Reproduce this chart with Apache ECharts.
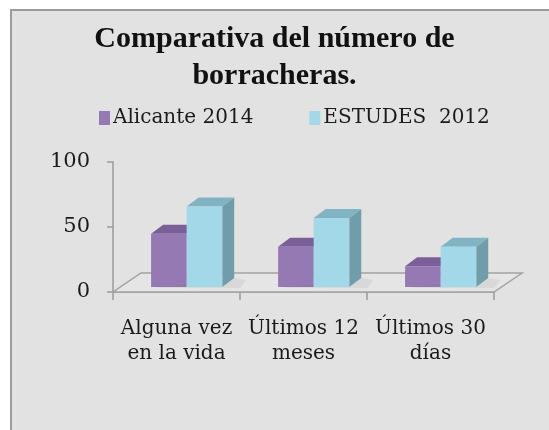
<!DOCTYPE html>
<html>
<head>
<meta charset="utf-8">
<script src="https://cdn.jsdelivr.net/npm/echarts@6/dist/echarts.min.js"></script>
<style>
html,body{margin:0;padding:0;background:#ffffff;}
#c{width:549px;height:430px;}
</style>
</head>
<body>
<div id="c"></div>
<script>
const titleText = 'Comparativa del número de\nborracheras.';
const categories = ['Alguna vez\nen la vida', 'Últimos 12\nmeses', 'Últimos 30\ndías'];
const seriesNames = ['Alicante 2014', 'ESTUDES  2012'];
const alicante2014 = [41, 31, 16];
const estudes2012 = [62, 53, 31];
const yTicks = [0, 50, 100];

const palette = [
  {front: '#9479b3', top: '#7a5f98', side: '#6e5690'},
  {front: '#a3d8e8', top: '#80b4c3', side: '#6f9eaa'}
];
const serif = 'DejaVu Serif';

function barRenderer(sIdx) {
  return function (params, api) {
    const cat = api.value(0), v = api.value(1);
    const base = api.coord([cat, 0]);
    const top = api.coord([cat, v]);
    const band = api.size([1, 0])[0];
    const bw = band * 0.28;
    const shx = band * 0.075, shy = -5;
    const dx = 12, dy = -9;
    const x0 = base[0] - band * 0.275 + sIdx * bw + shx;
    const x1 = x0 + bw;
    const yb = base[1] + shy, yt = top[1] + shy;
    const c = palette[sIdx];
    const children = [];
    if (sIdx === 1) {
      children.push({
        type: 'polygon', silent: true,
        shape: {points: [[x1 - bw * 2 + 2, yb + 1], [x1 + dx + 6, yb + 1], [x1 + dx + 12, yb - 7], [x1 + dx, yb + dy]]},
        style: {fill: 'rgba(120,120,120,0.10)', shadowBlur: 8, shadowColor: 'rgba(0,0,0,0.12)'}
      });
    }
    children.push(
      {type: 'polygon', shape: {points: [[x1, yt], [x1 + dx, yt + dy], [x1 + dx, yb + dy], [x1, yb]]}, style: {fill: c.side}},
      {type: 'polygon', shape: {points: [[x0, yt], [x1, yt], [x1 + dx, yt + dy], [x0 + dx, yt + dy]]}, style: {fill: c.top}},
      {type: 'rect', shape: {x: x0, y: yt, width: bw, height: yb - yt}, style: {fill: c.front}}
    );
    return {type: 'group', children: children};
  };
}

function floorRenderer(params, api) {
  const band = api.size([1, 0])[0];
  const a = api.coord([0, 0]);
  const b = api.coord([categories.length - 1, 0]);
  const xl = a[0] - band / 2, xr = b[0] + band / 2, y = a[1];
  const dx = 28, dy = -19;
  return {
    type: 'polygon', silent: true,
    shape: {points: [[xl, y], [xr, y], [xr + dx, y + dy], [xl + dx, y + dy]]},
    style: {fill: '#e5e5e5', stroke: '#a3a3a3', lineWidth: 1.5}
  };
}

const chart = echarts.init(document.getElementById('c'), null, {renderer: 'canvas'});
chart.setOption({
  backgroundColor: '#ffffff',
  animation: false,
  graphic: [{
    type: 'rect', z: -10, silent: true,
    shape: {x: 11, y: 10, width: 560, height: 440},
    style: {fill: '#e2e2e2', stroke: '#9c9c9c', lineWidth: 2}
  }],
  title: {
    text: titleText, left: 'center', top: 16,
    textStyle: {fontFamily: 'Liberation Serif', fontWeight: 'bold', fontSize: 30, lineHeight: 37, color: '#111'}
  },
  legend: {
    left: 94, top: 103, itemGap: 56, itemWidth: 11, itemHeight: 14, icon: 'rect',
    textStyle: {fontFamily: serif, fontSize: 20, color: '#1a1a1a', padding: [0, 0, 0, -2]},
    data: seriesNames
  },
  grid: {left: 113, right: 55, top: 162, bottom: 138},
  xAxis: {
    type: 'category', data: categories,
    axisLine: {show: true, lineStyle: {color: '#9a9a9a', width: 1.5}},
    axisTick: {show: true, length: 8, lineStyle: {color: '#9a9a9a', width: 1.5}},
    axisLabel: {fontFamily: serif, fontSize: 20, lineHeight: 25, color: '#1a1a1a', margin: 24, interval: 0},
    splitLine: {show: false}
  },
  yAxis: {
    type: 'value', min: 0, max: 100, interval: 50,
    axisLine: {show: true, lineStyle: {color: '#9a9a9a', width: 1.5}},
    axisTick: {show: true, length: 6, lineStyle: {color: '#9a9a9a', width: 1.5}},
    axisLabel: {fontFamily: serif, fontSize: 21, color: '#1a1a1a', margin: 23,
      formatter: function (v) { return yTicks.indexOf(v) >= 0 ? String(v) : ''; }},
    splitLine: {show: false}
  },
  series: [
    {type: 'custom', name: 'floor', silent: true, z: 1, renderItem: floorRenderer, data: [[0, 0]], legendHoverLink: false, tooltip: {show: false}},
    {type: 'custom', name: seriesNames[0], z: 2, itemStyle: {color: palette[0].front}, renderItem: barRenderer(0),
      data: alicante2014.map((v, i) => [i, v])},
    {type: 'custom', name: seriesNames[1], z: 3, itemStyle: {color: palette[1].front}, renderItem: barRenderer(1),
      data: estudes2012.map((v, i) => [i, v])}
  ]
});
</script>
</body>
</html>
